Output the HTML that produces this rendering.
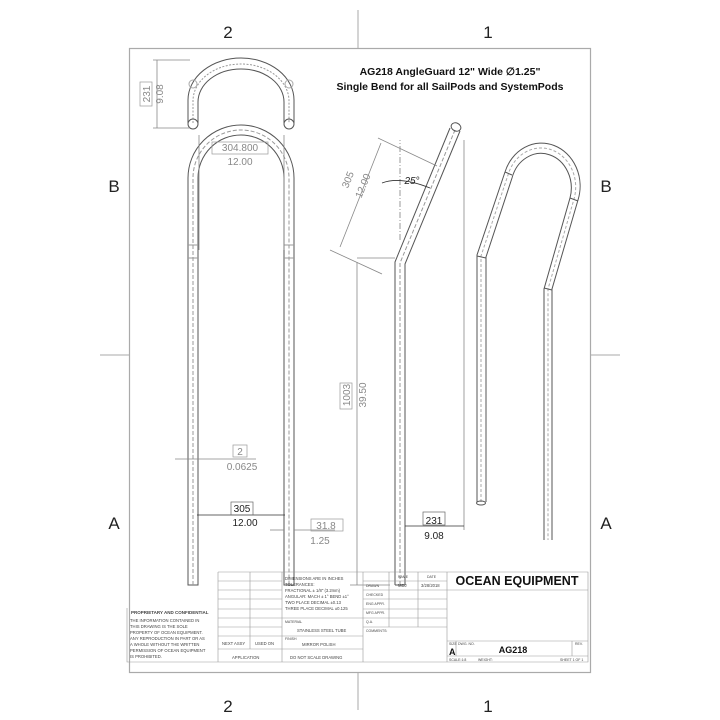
<!DOCTYPE html>
<html><head><meta charset="utf-8"><style>
html,body{margin:0;padding:0;background:#fff;}
svg{display:block;font-family:"Liberation Sans",sans-serif;}
</style></head><body>
<svg width="720" height="720" viewBox="0 0 720 720" xmlns="http://www.w3.org/2000/svg">
<rect width="720" height="720" fill="#fff"/>
<rect x="129.5" y="48.5" width="461" height="624" fill="none" stroke="#aaa" stroke-width="1.2"/>
<g stroke="#aaa" stroke-width="1">
<line x1="358" y1="10" x2="358" y2="48"/><line x1="358" y1="672" x2="358" y2="710"/>
<line x1="100" y1="355" x2="129" y2="355"/><line x1="591" y1="355" x2="620" y2="355"/>
</g>
<g font-size="17" fill="#222" text-anchor="middle">
<text x="228" y="38">2</text><text x="488" y="38">1</text>
<text x="228" y="712">2</text><text x="488" y="712">1</text>
<text x="114" y="192">B</text><text x="606" y="192">B</text>
<text x="114" y="529">A</text><text x="606" y="529">A</text>
</g>
<g font-size="10.5" font-weight="bold" fill="#111" text-anchor="middle">
<text x="450" y="75">AG218 AngleGuard 12" Wide  ∅1.25"</text>
<text x="450" y="90">Single Bend for all SailPods and SystemPods</text>
</g>
<g fill="none" stroke="#555" stroke-width="1">
<path d="M188,123 V100 A53,42 0 0 1 294,100 V123"/>
<path d="M198,123 V102 A43,33 0 0 1 284,102 V123"/>
<path d="M193,123 V101 A48,37 0 0 1 289,101 V123" stroke-dasharray="2,1.5" stroke="#999"/>
<circle cx="193" cy="124" r="5"/><circle cx="289" cy="124" r="5"/>
<circle cx="193" cy="84" r="4" stroke="#aaa"/><circle cx="289" cy="84" r="4" stroke="#aaa"/>
<path d="M188,585 V178 A53,53 0 0 1 294,178 V585 H284 V178 A43,43 0 0 0 198,178 V585 Z"/>
<path d="M193,585 V178 A48,48 0 0 1 289,178 V585" stroke="#999" stroke-dasharray="4,2"/>
<line x1="188" y1="245" x2="198" y2="245" stroke="#999"/><line x1="284" y1="245" x2="294" y2="245" stroke="#999"/>
<line x1="188" y1="258" x2="198" y2="258" stroke="#999"/><line x1="284" y1="258" x2="294" y2="258" stroke="#999"/>
<path d="M395,585 V262 L450,128 M405,585 V264 L460,131"/>
<path d="M400,585 V263 L455,130" stroke="#999" stroke-dasharray="4,2"/>
<line x1="395" y1="585" x2="405" y2="585"/>
<ellipse cx="456" cy="127" rx="5" ry="4" transform="rotate(25 456 127)"/>
<line x1="400" y1="240" x2="400" y2="140" stroke="#999" stroke-dasharray="6,2,1,2"/>
<path d="M477,502 V255 L505,172 A36,40 0 0 1 578,200 L552,289 V540 M486,502 V257 L512,178 A28,32 0 0 1 570,198 L544,289 V540"/>
<path d="M481,502 V256 L508,175 A32,36 0 0 1 574,199 L548,289 V540" stroke="#aaa" stroke-dasharray="3,2"/>
<ellipse cx="481" cy="503" rx="4.5" ry="2"/>
<line x1="477" y1="256" x2="486" y2="258"/><line x1="505" y1="172" x2="512" y2="175"/><line x1="570" y1="198" x2="578" y2="201"/><line x1="544" y1="288" x2="552" y2="290"/>
</g>
<g stroke="#888" stroke-width="0.8" fill="none">
<line x1="153" y1="60" x2="190" y2="60"/><line x1="153" y1="128" x2="190" y2="128"/><line x1="157" y1="60" x2="157" y2="128"/>
<line x1="199" y1="135" x2="199" y2="250"/><line x1="284" y1="135" x2="284" y2="250"/>
<line x1="197" y1="515" x2="285" y2="515" stroke="#333"/>
<line x1="175" y1="459" x2="256" y2="459"/>
<line x1="270" y1="530" x2="284" y2="530"/><line x1="294" y1="530" x2="335" y2="530"/>
<line x1="357" y1="258" x2="395" y2="258"/><line x1="350" y1="585" x2="390" y2="585"/><line x1="357" y1="262" x2="357" y2="585"/>
<line x1="464" y1="140" x2="464" y2="530"/><line x1="405" y1="526" x2="464" y2="526" stroke="#333"/>
<line x1="378" y1="138" x2="437" y2="166"/><line x1="330" y1="250" x2="382" y2="274"/>
<line x1="381" y1="143" x2="340" y2="247"/>
<path d="M382,183 Q400,176 430,188" stroke="#333"/>
</g>
<g font-size="10" fill="#888" text-anchor="middle">
<text x="240" y="151">304.800</text><rect x="212" y="142" width="56" height="12" fill="none" stroke="#999" stroke-width="0.7"/>
<text x="240" y="165">12.00</text>
<text x="240" y="455">2</text><rect x="233" y="445" width="14" height="12" fill="none" stroke="#999" stroke-width="0.7"/>
<text x="242" y="470">0.0625</text>
<text x="326" y="529">31.8</text><rect x="311" y="519" width="32" height="12" fill="none" stroke="#999" stroke-width="0.7"/>
<text x="320" y="544">1.25</text>
<text transform="translate(150,94) rotate(-90)">231</text><rect x="140" y="82" width="12" height="24" fill="none" stroke="#999" stroke-width="0.7"/>
<text transform="translate(163,94) rotate(-90)">9.08</text>
<text transform="translate(350,395) rotate(-90)">1003</text><rect x="340" y="383" width="12" height="26" fill="none" stroke="#999" stroke-width="0.7"/>
<text transform="translate(366,395) rotate(-90)">39.50</text>
<text transform="translate(351,181) rotate(-68)">305</text>
<text transform="translate(366,187) rotate(-68)">12.00</text>
</g>
<g font-size="10" fill="#222" text-anchor="middle">
<text x="242" y="512">305</text><rect x="231" y="502" width="22" height="13" fill="none" stroke="#666" stroke-width="0.7"/>
<text x="245" y="526">12.00</text>
<text x="434" y="524">231</text><rect x="423" y="512" width="22" height="13" fill="none" stroke="#666" stroke-width="0.7"/>
<text x="434" y="539">9.08</text>
<text x="412" y="184" font-style="italic">25°</text>
</g>
<g stroke="#999" stroke-width="0.6" fill="none">
<path d="M218,572 H588 V662 H127 V608"/>
<line x1="218" y1="572" x2="218" y2="662"/><line x1="250" y1="572" x2="250" y2="649"/><line x1="282" y1="572" x2="282" y2="662"/>
<line x1="363" y1="572" x2="363" y2="662"/><line x1="389" y1="572" x2="389" y2="627"/><line x1="418" y1="572" x2="418" y2="627"/><line x1="447" y1="572" x2="447" y2="662"/>
<line x1="218" y1="581" x2="282" y2="581"/><line x1="218" y1="590" x2="282" y2="590"/><line x1="218" y1="599" x2="282" y2="599"/><line x1="218" y1="609" x2="282" y2="609"/><line x1="218" y1="618" x2="282" y2="618"/><line x1="218" y1="627" x2="282" y2="627"/><line x1="218" y1="636" x2="282" y2="636"/><line x1="218" y1="649" x2="363" y2="649"/>
<line x1="282" y1="618" x2="363" y2="618"/><line x1="282" y1="636" x2="363" y2="636"/>
<line x1="363" y1="581" x2="447" y2="581"/><line x1="363" y1="590" x2="447" y2="590"/><line x1="363" y1="599" x2="447" y2="599"/><line x1="363" y1="609" x2="447" y2="609"/><line x1="363" y1="618" x2="447" y2="618"/><line x1="363" y1="627" x2="447" y2="627"/>
<line x1="447" y1="590" x2="588" y2="590"/><line x1="447" y1="641" x2="588" y2="641"/><line x1="447" y1="656" x2="588" y2="656"/>
<line x1="456" y1="641" x2="456" y2="656"/><line x1="572" y1="641" x2="572" y2="656"/>
</g>
<g font-size="4.2" fill="#444">
<text x="131" y="614" font-weight="bold" font-size="4.5">PROPRIETARY AND CONFIDENTIAL</text>
<text x="130" y="622">THE INFORMATION CONTAINED IN</text>
<text x="130" y="628">THIS DRAWING IS THE SOLE</text>
<text x="130" y="634">PROPERTY OF OCEAN EQUIPMENT.</text>
<text x="130" y="640">ANY REPRODUCTION IN PART OR AS</text>
<text x="130" y="646">A WHOLE WITHOUT THE WRITTEN</text>
<text x="130" y="652">PERMISSION OF OCEAN EQUIPMENT</text>
<text x="130" y="658">IS PROHIBITED.</text>
<text x="222" y="645">NEXT ASSY</text><text x="255" y="645">USED ON</text>
<text x="232" y="659">APPLICATION</text><text x="290" y="659">DO  NOT  SCALE  DRAWING</text>
<text x="285" y="580">DIMENSIONS ARE IN INCHES</text>
<text x="285" y="586">TOLERANCES:</text>
<text x="285" y="592">FRACTIONAL ± 1/8" (3.2mm)</text>
<text x="285" y="598">ANGULAR: MACH ± 1° BEND ±1°</text>
<text x="285" y="604">TWO PLACE DECIMAL    ±0.13</text>
<text x="285" y="610">THREE PLACE DECIMAL  ±0.125</text>
<text x="285" y="623" font-size="3.5">MATERIAL</text><text x="297" y="632">STAINLESS STEEL TUBE</text>
<text x="285" y="640" font-size="3.5">FINISH</text><text x="302" y="646">MIRROR POLISH</text>
<text x="398" y="578" font-size="3.5">NAME</text><text x="427" y="578" font-size="3.5">DATE</text>
<text x="366" y="587" font-size="3.5">DRAWN</text><text x="398" y="587">MDJ</text><text x="421" y="587">3/28/2018</text>
<text x="366" y="596" font-size="3.5">CHECKED</text><text x="366" y="605" font-size="3.5">ENG APPR.</text>
<text x="366" y="614" font-size="3.5">MFG APPR.</text><text x="366" y="623" font-size="3.5">Q.A.</text>
<text x="366" y="632" font-size="3.5">COMMENTS:</text>
<text x="449" y="645" font-size="3.5">SIZE</text><text x="458" y="645" font-size="3.5">DWG. NO.</text><text x="575" y="645" font-size="3.5">REV.</text>
<text x="449" y="661" font-size="3.5">SCALE:1:8</text><text x="478" y="661" font-size="3.5">WEIGHT:</text><text x="560" y="661" font-size="3.5">SHEET 1 OF 1</text>
</g>
<text x="517" y="585" font-size="12.5" font-weight="bold" fill="#111" text-anchor="middle">OCEAN EQUIPMENT</text>
<text x="449" y="655" font-size="9" font-weight="bold" fill="#111">A</text>
<text x="513" y="653" font-size="9" font-weight="bold" fill="#111" text-anchor="middle">AG218</text>
</svg>
</body></html>
